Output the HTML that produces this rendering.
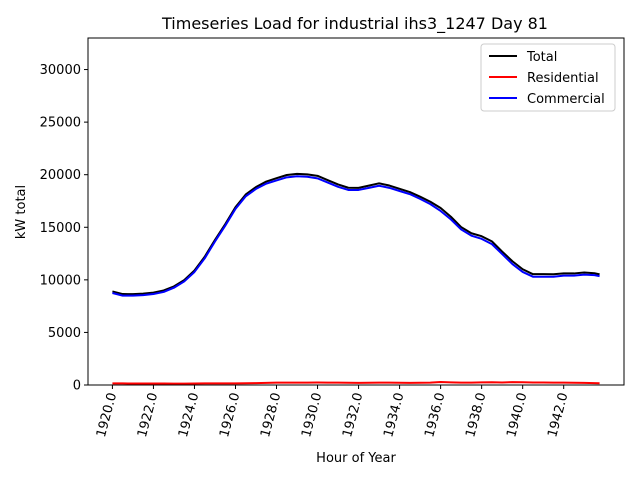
<!DOCTYPE html>
<html><head><meta charset="utf-8"><style>
body{margin:0;background:#fff}
svg{font-family:"DejaVu Sans","Liberation Sans",sans-serif}
</style></head><body>
<svg id="chart" width="640" height="480" xmlns="http://www.w3.org/2000/svg">
<rect width="640" height="480" fill="#fff"/>
<text x="355" y="29" font-size="16" text-anchor="middle">Timeseries Load for industrial ihs3_1247  Day 81</text>
<text x="356" y="462" font-size="13" text-anchor="middle">Hour of Year</text>
<text transform="translate(25,212) rotate(-90)" font-size="13" text-anchor="middle">kW total</text>
<g id="ticks"></g>
<g id="plot"></g>
<rect x="88" y="38" width="536" height="347" fill="none" stroke="#000" stroke-width="1"/>
<g>
<rect x="481" y="44" width="134" height="67" fill="#fff" stroke="#ccc" rx="3"/>
<line x1="489" y1="56" x2="517" y2="56" stroke="#000" stroke-width="2"/>
<text x="527" y="61" font-size="13">Total</text>
<line x1="489" y1="77" x2="517" y2="77" stroke="red" stroke-width="2"/>
<text x="527" y="82" font-size="13">Residential</text>
<line x1="489" y1="98" x2="517" y2="98" stroke="blue" stroke-width="2"/>
<text x="527" y="103" font-size="13">Commercial</text>
</g>
</svg>
<script>
const hours=[1920,1920.5,1921,1921.5,1922,1922.5,1923,1923.5,1924,1924.5,1925,1925.5,1926,1926.5,1927,1927.5,1928,1928.5,1929,1929.5,1930,1930.5,1931,1931.5,1932,1932.5,1933,1933.5,1934,1934.5,1935,1935.5,1936,1936.5,1937,1937.5,1938,1938.5,1939,1939.5,1940,1940.5,1941,1941.5,1942,1942.5,1943,1943.5,1943.75];
const commercial=[8750,8500,8500,8550,8650,8850,9250,9850,10750,12050,13650,15150,16750,17950,18650,19150,19450,19750,19850,19800,19650,19250,18850,18550,18550,18750,18950,18750,18450,18150,17700,17200,16550,15750,14800,14200,13900,13400,12450,11500,10750,10300,10300,10300,10400,10400,10500,10450,10350];
const residential=[150,150,140,140,140,140,130,130,140,150,150,150,160,170,180,200,220,220,230,230,240,230,220,210,200,210,230,220,210,200,210,230,280,250,220,230,250,260,240,270,260,240,240,230,220,210,200,180,170];
const yTicks=[0,5000,10000,15000,20000,25000,30000];
const xTicks=[1920,1922,1924,1926,1928,1930,1932,1934,1936,1938,1940,1942];
const total=commercial.map((c,i)=>c+residential[i]);
const X0=88,X1=624,Y0=385,Y1=38,xmin=1918.81,xmax=1944.94,ymin=0,ymax=33000;
const sx=v=>X0+(v-xmin)/(xmax-xmin)*(X1-X0);
const sy=v=>Y0-(v-ymin)/(ymax-ymin)*(Y0-Y1);
const NS="http://www.w3.org/2000/svg";
const tg=document.getElementById('ticks'),pg=document.getElementById('plot');
function mk(tag,attrs,parent){const e=document.createElementNS(NS,tag);for(const k in attrs)e.setAttribute(k,attrs[k]);parent.appendChild(e);return e;}
yTicks.forEach(v=>{
 const l=mk('line',{x1:X0-4,x2:X0,y1:sy(v),y2:sy(v),stroke:'#000'},tg);
 
 
 const t=mk('text',{x:X0-7,y:sy(v)+4.5,'font-size':13,'text-anchor':'end'},tg);
 t.textContent=v;
 
 
});
xTicks.forEach(v=>{
 const x=sx(v);
 const l=mk('line',{x1:x,x2:x,y1:Y0,y2:Y0+4,stroke:'#000'},tg);
 
 
 const t=mk('text',{transform:`translate(${x+4},${Y0+9}) rotate(-75)`,'font-size':13,'text-anchor':'end'},tg);
 t.textContent=v.toFixed(1);
 
 
});
function line(arr,color,name){
 const p=mk('polyline',{points:arr.map((v,i)=>sx(hours[i])+','+sy(v)).join(' '),fill:'none',stroke:color,'stroke-width':2,'stroke-linejoin':'round'},pg);
 
 
}
line(total,'#000','total-line');
line(residential,'red','residential-line');
line(commercial,'blue','commercial-line');
</script>
</body></html>
